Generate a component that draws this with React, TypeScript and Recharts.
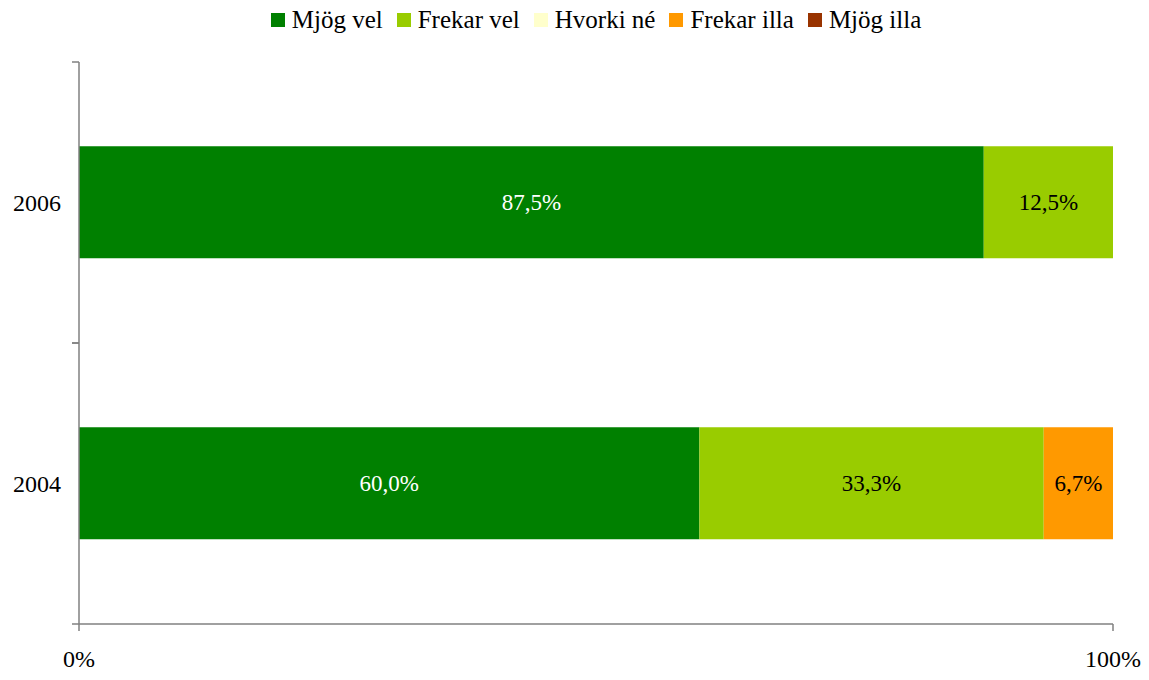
import React from "react";
import { BarChart, Bar, XAxis, YAxis, Legend, LabelList } from "recharts";

const years = ["2006", "2004"];
const mjogVel = [87.5, 60.0];
const frekarVel = [12.5, 33.3];
const hvorkiNe = [0, 0];
const frekarIlla = [0, 6.7];
const mjogIlla = [0, 0];

const seriesNames = ["Mjög vel", "Frekar vel", "Hvorki né", "Frekar illa", "Mjög illa"];
const seriesColors = ["#008000", "#99CC00", "#FFFFCC", "#FF9900", "#993300"];
const labelColors = ["#ffffff", "#000000", "#000000", "#000000", "#ffffff"];
const xTicks = [0, 100];

const allSeries = [mjogVel, frekarVel, hvorkiNe, frekarIlla, mjogIlla];

const data = years.map((year, i) => {
  const row: Record<string, string | number> = { year };
  allSeries.forEach((s, k) => {
    row[`s${k}`] = s[i];
  });
  return row;
});

const FONT = "'Liberation Serif', 'Times New Roman', Times, 'DejaVu Serif', serif";
const AXIS = "#808080";

// year label plus the small tick marks at the band edges (Excel style)
function YTick(props: any) {
  const { x, y, payload } = props;
  const half = payload && payload.offset ? payload.offset : 140.5;
  return (
    <g>
      <line x1={x - 7} x2={x} y1={y - half} y2={y - half} stroke={AXIS} strokeWidth={1.5} />
      <line x1={x - 7} x2={x} y1={y + half} y2={y + half} stroke={AXIS} strokeWidth={1.5} />
      <text x={x - 18} y={y} dy={8} textAnchor="end" fontSize={24} fontFamily={FONT} fill="#000">
        {payload.value}
      </text>
    </g>
  );
}

function LegendBox() {
  return (
    <div
      style={{
        display: "flex",
        justifyContent: "center",
        alignItems: "center",
        height: 28,
        fontFamily: FONT,
        fontSize: 25,
        color: "#000",
        whiteSpace: "nowrap",
      }}
    >
      {seriesNames.map((name, k) => (
        <span key={name} style={{ display: "flex", alignItems: "center", marginRight: k < seriesNames.length - 1 ? 14 : 0 }}>
          <span style={{ width: 14, height: 14, background: seriesColors[k], display: "inline-block", marginRight: 7 }} />
          {name}
        </span>
      ))}
    </div>
  );
}

const fmt = (v: any) => (v ? `${Number(v).toFixed(1).replace(".", ",")}%` : "");

export default function App() {
  return (
    <div style={{ position: "absolute", left: 0, top: 0, background: "#fff", fontFamily: FONT }}>
      <BarChart
        width={1149}
        height={680}
        data={data}
        layout="vertical"
        barCategoryGap="30%"
        margin={{ top: 34, right: 36, bottom: 0, left: 0 }}
      >
        <Legend
          verticalAlign="top"
          content={<LegendBox />}
          wrapperStyle={{ top: 6, left: 79, width: 1034 }}
        />
        <XAxis
          type="number"
          domain={[0, 100]}
          ticks={xTicks}
          tickFormatter={(v: number) => `${v}%`}
          axisLine={{ stroke: AXIS, strokeWidth: 1.5 }}
          tickLine={{ stroke: AXIS, strokeWidth: 1.5 }}
          tickSize={7}
          tickMargin={19}
          height={56}
          tick={{ fontSize: 24, fill: "#000", fontFamily: FONT }}
          interval={0}
        />
        <YAxis
          type="category"
          dataKey="year"
          width={79}
          tickLine={false}
          tickSize={0}
          tickMargin={0}
          axisLine={{ stroke: AXIS, strokeWidth: 1.5 }}
          tick={<YTick />}
          interval={0}
        />
        {seriesNames.map((name, k) => (
          <Bar
            key={name}
            dataKey={`s${k}`}
            name={name}
            stackId="a"
            fill={seriesColors[k]}
            isAnimationActive={false}
          >
            <LabelList
              dataKey={`s${k}`}
              position="center"
              formatter={fmt}
              fill={labelColors[k]}
              fontSize={23}
              fontFamily={FONT}
            />
          </Bar>
        ))}
      </BarChart>
    </div>
  );
}
